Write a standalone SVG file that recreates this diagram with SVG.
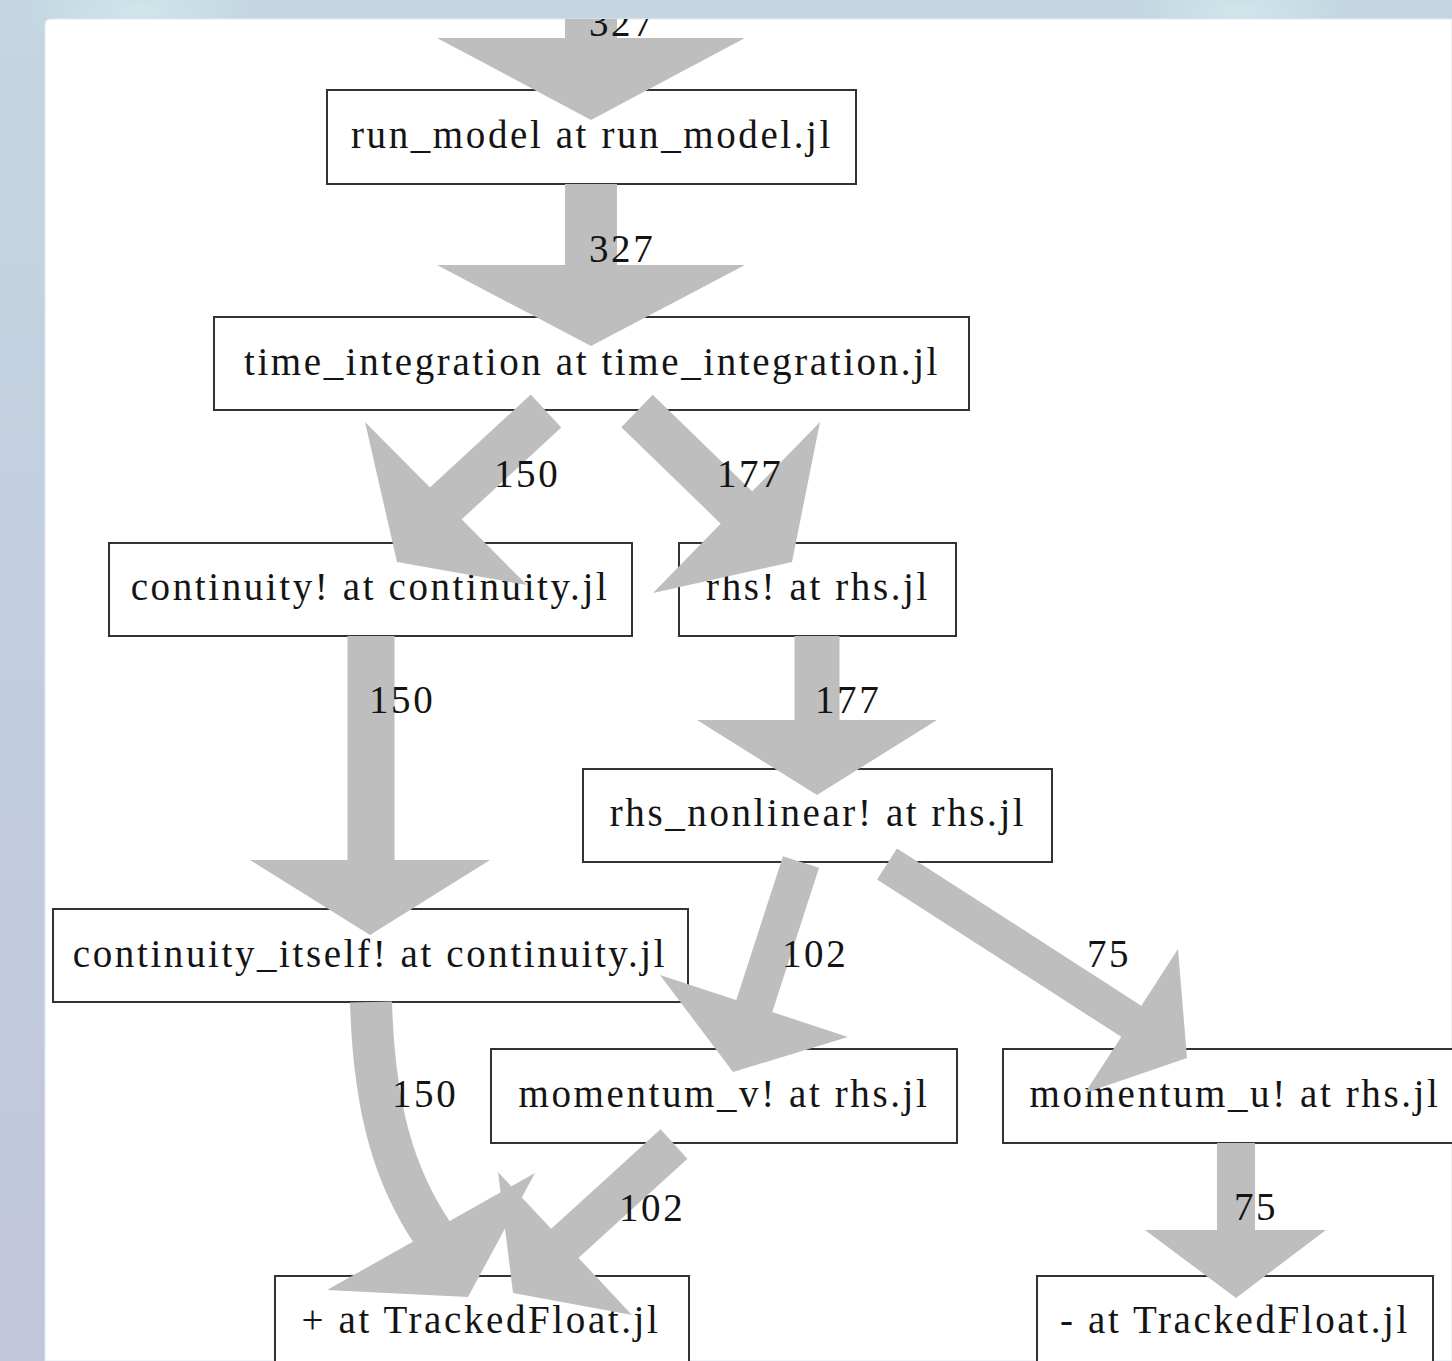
<svg xmlns="http://www.w3.org/2000/svg" width="1452" height="1361" viewBox="0 0 1452 1361">
<defs>
<linearGradient id="bg" x1="0" y1="0" x2="0" y2="1">
<stop offset="0" stop-color="#c3d6e2"/>
<stop offset="0.5" stop-color="#c2cde0"/>
<stop offset="1" stop-color="#c2c6da"/>
</linearGradient>
<radialGradient id="hl1" cx="0.5" cy="0.5" r="0.5">
<stop offset="0" stop-color="#cfe6ea"/>
<stop offset="1" stop-color="#cfe6ea" stop-opacity="0"/>
</radialGradient>
<clipPath id="panel">
<path d="M51,19 H1452 V1361 H45 V25 Q45,19 51,19 Z"/>
</clipPath>
<style>
.node rect{fill:#ffffff;stroke:#333333;stroke-width:2}
.node text,.lbl{font-family:"Liberation Serif","Times New Roman",serif;font-size:39px;letter-spacing:2.6px;fill:#141414}
.node text{text-anchor:middle}
.shaft{fill:none;stroke:#bebebe;stroke-linecap:butt}
.head{fill:#bebebe;stroke:none}
</style>
</defs>
<rect x="0" y="0" width="1452" height="1361" fill="url(#bg)"/>
<ellipse cx="140" cy="10" rx="120" ry="40" fill="url(#hl1)"/>
<ellipse cx="1240" cy="10" rx="110" ry="40" fill="url(#hl1)"/>
<path d="M51,19 H1452 V1361 H45 V25 Q45,19 51,19 Z" fill="#ffffff" stroke="#dfe9f1" stroke-width="1"/>
<g clip-path="url(#panel)">
<g id="nodes">
<g id="n_run_model" class="node"><rect x="327" y="90" width="529" height="94"/><text x="592" y="148">run_model at run_model.jl</text></g>
<g id="n_time_integration" class="node"><rect x="214" y="317" width="755" height="93"/><text x="592" y="375">time_integration at time_integration.jl</text></g>
<g id="n_continuity" class="node"><rect x="109" y="543" width="523" height="93"/><text x="370" y="600">continuity! at continuity.jl</text></g>
<g id="n_rhs" class="node"><rect x="679" y="543" width="277" height="93"/><text x="818" y="600">rhs! at rhs.jl</text></g>
<g id="n_rhs_nonlinear" class="node"><rect x="583" y="769" width="469" height="93"/><text x="818" y="826">rhs_nonlinear! at rhs.jl</text></g>
<g id="n_continuity_itself" class="node"><rect x="53" y="909" width="635" height="93"/><text x="370" y="967">continuity_itself! at continuity.jl</text></g>
<g id="n_momentum_v" class="node"><rect x="491" y="1049" width="466" height="94"/><text x="724" y="1107">momentum_v! at rhs.jl</text></g>
<g id="n_momentum_u" class="node"><rect x="1003" y="1049" width="462" height="94"/><text x="1235" y="1107">momentum_u! at rhs.jl</text></g>
<g id="n_plus" class="node"><rect x="275" y="1276" width="414" height="110"/><text x="481" y="1333">+ at TrackedFloat.jl</text></g>
<g id="n_minus" class="node"><rect x="1037" y="1276" width="396" height="110"/><text x="1235" y="1333">- at TrackedFloat.jl</text></g>
</g>
<g id="connectors">
<path class="shaft" d="M591,0 L591,40" stroke-width="52"/>
<polygon class="head" points="437,38 745,38 591,120"/>
<path class="shaft" d="M591,184 L591,267" stroke-width="52"/>
<polygon class="head" points="437,265 745,265 591,346"/>
<path class="shaft" d="M546,411 L443,506" stroke-width="45"/>
<polygon class="head" points="365,422 527,585 397,562"/>
<path class="shaft" d="M637,411 L740,511" stroke-width="45"/>
<polygon class="head" points="820,422 653,593 792,562"/>
<path class="shaft" d="M371,636 L371,862" stroke-width="47"/>
<polygon class="head" points="250,860 490,860 370,935"/>
<path class="shaft" d="M817,636 L817,722" stroke-width="45"/>
<polygon class="head" points="697,720 937,720 817,795"/>
<path class="shaft" d="M801,862 L753,1010" stroke-width="38"/>
<polygon class="head" points="660,975 848,1037 733,1072"/>
<path class="shaft" d="M887,864 L1134,1023" stroke-width="37"/>
<polygon class="head" points="1178,949 1085,1093 1187,1058"/>
<path class="shaft" d="M1236,1143 L1236,1232" stroke-width="38"/>
<polygon class="head" points="1145,1230 1326,1230 1236,1298"/>
<path class="shaft" d="M371,1002 C374,1110 395,1178 433,1234" stroke-width="42"/>
<polygon class="head" points="327,1290 535,1173 468,1297"/>
<path class="shaft" d="M674,1144 L563,1245" stroke-width="40"/>
<polygon class="head" points="498,1172 632,1315 513,1293"/>
<g id="edge-labels">
<text class="lbl" x="589" y="36">327</text>
<text class="lbl" x="589" y="262">327</text>
<text class="lbl" x="494" y="487">150</text>
<text class="lbl" x="717" y="487">177</text>
<text class="lbl" x="369" y="713">150</text>
<text class="lbl" x="815" y="713">177</text>
<text class="lbl" x="782" y="967">102</text>
<text class="lbl" x="1087" y="967">75</text>
<text class="lbl" x="392" y="1107">150</text>
<text class="lbl" x="619" y="1221">102</text>
<text class="lbl" x="1234" y="1220">75</text>
</g>
</g>
</g>
</svg>
